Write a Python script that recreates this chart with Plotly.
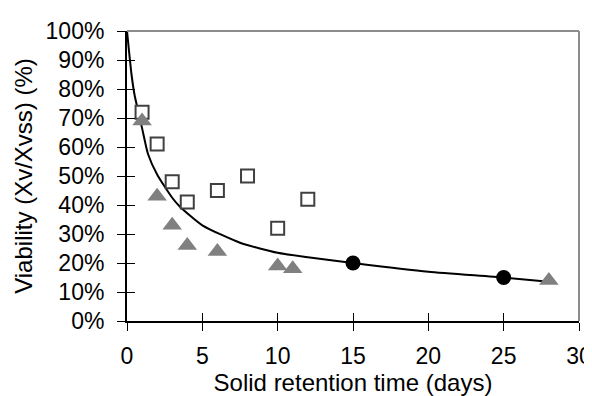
import plotly.graph_objects as go

# Data
sq_x = [1, 2, 3, 4, 6, 8, 10, 12]
sq_y = [0.72, 0.61, 0.48, 0.41, 0.45, 0.50, 0.32, 0.42]

tri_x = [1, 2, 3, 4, 6, 10, 11, 28]
tri_y = [0.69, 0.43, 0.33, 0.26, 0.24, 0.19, 0.18, 0.14]

circ_x = [15, 25]
circ_y = [0.20, 0.15]

curve_x = [0, 0.3, 0.5, 1, 1.4, 2, 3, 3.5, 5, 7.5, 10, 12, 15, 20, 25, 28]
curve_y = [1.00, 0.85, 0.78, 0.665, 0.575, 0.505, 0.425, 0.395, 0.33, 0.27, 0.235, 0.22, 0.20, 0.17, 0.15, 0.135]

x_ticks = [0, 5, 10, 15, 20, 25, 30]
y_ticks = [i / 10 for i in range(11)]
y_tick_labels = [f"{i * 10}%" for i in range(11)]

FONT = "Liberation Sans, Arial, sans-serif"

fig = go.Figure()
fig.add_trace(go.Scatter(x=curve_x, y=curve_y, mode="lines",
                         line=dict(color="black", width=2, shape="spline", smoothing=0.6),
                         showlegend=False, hoverinfo="skip"))
fig.add_trace(go.Scatter(x=sq_x, y=sq_y, mode="markers",
                         marker=dict(symbol="square", size=13, color="white",
                                     line=dict(color="#404040", width=2)),
                         showlegend=False))
fig.add_trace(go.Scatter(x=tri_x, y=tri_y, mode="markers",
                         marker=dict(symbol="triangle-up", size=17, color="#808080",
                                     line=dict(width=0)),
                         showlegend=False))
fig.add_trace(go.Scatter(x=circ_x, y=circ_y, mode="markers",
                         marker=dict(symbol="circle", size=15, color="black",
                                     line=dict(width=0)),
                         showlegend=False))
# dummy trace for overlay axes
fig.add_trace(go.Scatter(x=[None], y=[None], xaxis="x2", yaxis="y2",
                         showlegend=False, hoverinfo="skip"))

axis_common = dict(showgrid=False, zeroline=False, automargin=False)
fig.update_layout(
    width=592, height=396,
    margin=dict(l=119, r=21, t=23, b=83),
    paper_bgcolor="white", plot_bgcolor="white",
    font=dict(family=FONT, size=23, color="black"),
    xaxis=dict(range=[0, 30], tickvals=x_ticks, ticks="outside", ticklen=8,
               tickwidth=1, tickcolor="black", showline=True, linecolor="black",
               linewidth=2, ticklabelstandoff=5,
               title=dict(text="Solid retention time (days)", font=dict(size=24), standoff=4),
               tickfont=dict(size=23), **axis_common),
    yaxis=dict(range=[0, 1], tickvals=y_ticks, ticktext=y_tick_labels, ticks="outside",
               ticklen=8, tickwidth=1, tickcolor="black", showline=True,
               linecolor="black", linewidth=2, ticklabelstandoff=8,
               title=dict(text="Viability (Xv/Xvss) (%)", font=dict(size=24), standoff=6),
               tickfont=dict(size=23), **axis_common),
    xaxis2=dict(range=[0, 30], tickvals=x_ticks, ticks="inside", ticklen=8,
                tickwidth=1, tickcolor="black", showticklabels=False, overlaying="x",
                side="bottom", showline=False, **axis_common),
    yaxis2=dict(range=[0, 1], tickvals=y_ticks, ticks="inside", ticklen=8,
                tickwidth=1, tickcolor="black", showticklabels=False, overlaying="y",
                side="left", showline=False, **axis_common),
    shapes=[
        dict(type="line", xref="paper", yref="paper", x0=0, x1=1, y0=1, y1=1,
             line=dict(color="#8c8c8c", width=2)),
        dict(type="line", xref="paper", yref="paper", x0=1, x1=1, y0=0, y1=1,
             line=dict(color="#8c8c8c", width=2)),
    ],
)

fig.write_html("out.html")
